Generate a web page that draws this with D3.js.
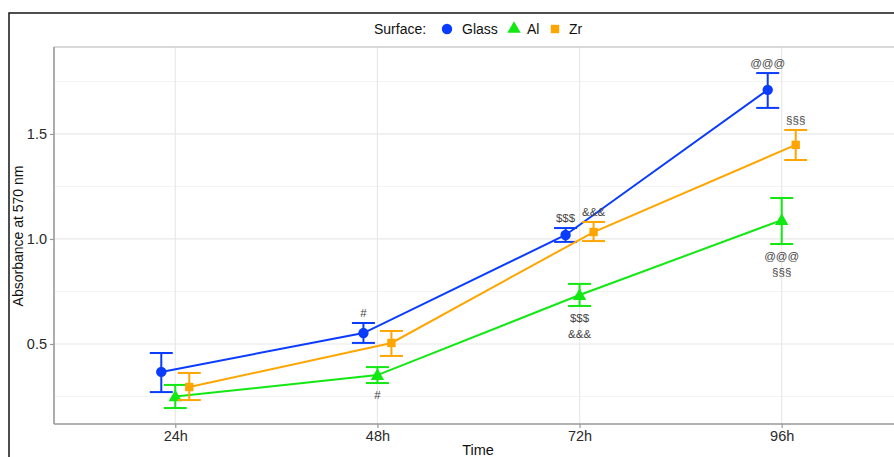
<!DOCTYPE html>
<html>
<head>
<meta charset="utf-8">
<script src="https://cdn.jsdelivr.net/npm/d3@7"></script>
<style>
  html, body { margin: 0; padding: 0; background: #fff; }
  svg { display: block; font-family: "Liberation Sans", Arial, Helvetica, sans-serif; }
</style>
</head>
<body>
<svg id="chart" width="894" height="457"></svg>
<script>
// ---------- data ----------
const times = ["24h", "48h", "72h", "96h"];
const surfaces = ["Glass", "Al", "Zr"];
const colors = ["#0a3cff", "#12e812", "#ffa500"];
const symbols = ["circle", "triangle", "square"];

const glassMean = [0.367, 0.552, 1.019, 1.710];
const glassLow  = [0.271, 0.505, 0.986, 1.624];
const glassHigh = [0.457, 0.600, 1.052, 1.790];

const alMean = [0.250, 0.352, 0.733, 1.090];
const alLow  = [0.195, 0.314, 0.681, 0.976];
const alHigh = [0.305, 0.390, 0.786, 1.195];

const zrMean = [0.295, 0.505, 1.033, 1.448];
const zrLow  = [0.233, 0.443, 0.990, 1.376];
const zrHigh = [0.362, 0.562, 1.081, 1.519];

const yTicks = [0.5, 1.0, 1.5];
const yMinor = [0.25, 0.75, 1.25, 1.75];

// annotations: series, time, text, side (above/below the error bar), line order
const annotations = [
  { s: "Glass", t: "48h", text: "#",   side: "above", line: 0 },
  { s: "Al",    t: "48h", text: "#",   side: "below", line: 0 },
  { s: "Glass", t: "72h", text: "$$$", side: "above", line: 0 },
  { s: "Zr",    t: "72h", text: "&&&", side: "above", line: 0 },
  { s: "Al",    t: "72h", text: "$$$", side: "below", line: 0 },
  { s: "Al",    t: "72h", text: "&&&", side: "below", line: 1 },
  { s: "Glass", t: "96h", text: "@@@", side: "above", line: 0 },
  { s: "Zr",    t: "96h", text: "§§§", side: "above", line: 0 },
  { s: "Al",    t: "96h", text: "@@@", side: "below", line: 0 },
  { s: "Al",    t: "96h", text: "§§§", side: "below", line: 1 }
];

const seriesData = {
  Glass: { mean: glassMean, low: glassLow, high: glassHigh },
  Al:    { mean: alMean,    low: alLow,    high: alHigh },
  Zr:    { mean: zrMean,    low: zrLow,    high: zrHigh }
};

// ---------- layout ----------
const svg = d3.select("#chart");
const panel = { left: 54, top: 47, right: 903, bottom: 424 };

const x = d3.scalePoint().domain(times).range([panel.left, panel.right]).padding(0.6);
const dodge = d3.scalePoint().domain(surfaces).range([-14, 14]);
const y = d3.scaleLinear().domain([0.119, 1.914]).range([panel.bottom, panel.top]);
const symMap = { circle: d3.symbolCircle, triangle: d3.symbolTriangle, square: d3.symbolSquare };
const symSize = { circle: 85, triangle: 78, square: 70 };

// outer frame
svg.append("rect")
  .attr("x", 9).attr("y", 13).attr("width", 1000).attr("height", 1000)
  .attr("fill", "none").attr("stroke", "#222").attr("stroke-width", 1.6);

// grid
const grid = svg.append("g");
grid.selectAll(".ymin").data(yMinor).join("line")
  .attr("x1", panel.left).attr("x2", panel.right)
  .attr("y1", d => y(d)).attr("y2", d => y(d))
  .attr("stroke", "#f4f4f4").attr("stroke-width", 1);
grid.selectAll(".ymaj").data(yTicks).join("line")
  .attr("x1", panel.left).attr("x2", panel.right)
  .attr("y1", d => y(d)).attr("y2", d => y(d))
  .attr("stroke", "#e8e8e8").attr("stroke-width", 1.2);
grid.selectAll(".xmaj").data(times).join("line")
  .attr("x1", d => x(d)).attr("x2", d => x(d))
  .attr("y1", panel.top).attr("y2", panel.bottom)
  .attr("stroke", "#e8e8e8").attr("stroke-width", 1.2);

// panel border
svg.append("line").attr("x1", panel.left).attr("x2", panel.right)
  .attr("y1", panel.top).attr("y2", panel.top)
  .attr("stroke", "#cccccc").attr("stroke-width", 1.6);

// axes
const yAxis = svg.append("g").attr("transform", `translate(${panel.left},0)`)
  .call(d3.axisLeft(y).tickValues(yTicks).tickFormat(d3.format(".1f")).tickSize(4).tickPadding(3));
const xAxis = svg.append("g").attr("transform", `translate(0,${panel.bottom})`)
  .call(d3.axisBottom(x).tickSize(4).tickPadding(3));
[yAxis, xAxis].forEach(g => {
  g.select(".domain").attr("stroke", "#999").attr("stroke-width", 1.6);
  g.selectAll(".tick line").attr("stroke", "#999").attr("stroke-width", 1.2);
  g.selectAll(".tick text").attr("fill", "#2a2a2a").style("font-size", "14.5px")
    .style("font-family", "'Liberation Sans', Arial, sans-serif");
});
yAxis.select(".domain").attr("d", `M0,${panel.top}V${panel.bottom}`);
xAxis.select(".domain").attr("d", `M${panel.left},0H${panel.right}`);

// axis titles
svg.append("text").attr("x", 478).attr("y", 455).attr("text-anchor", "middle")
  .style("font-size", "14.5px").attr("fill", "#111").text("Time");
svg.append("text").attr("transform", "translate(23,236) rotate(-90)")
  .attr("text-anchor", "middle").style("font-size", "14px").attr("fill", "#111")
  .text("Absorbance at 570 nm");

// series
const px = (s, t) => x(t) + dodge(s);
surfaces.forEach((s, si) => {
  const d = seriesData[s];
  const pts = times.map((t, i) => ({ t, m: d.mean[i], lo: d.low[i], hi: d.high[i] }));
  const g = svg.append("g");
  g.append("path").datum(pts)
    .attr("d", d3.line().x(p => px(s, p.t)).y(p => y(p.m)))
    .attr("fill", "none").attr("stroke", colors[si]).attr("stroke-width", 2);
  const eb = g.selectAll(".eb").data(pts).join("g");
  eb.append("line").attr("x1", p => px(s, p.t)).attr("x2", p => px(s, p.t))
    .attr("y1", p => y(p.lo)).attr("y2", p => y(p.hi))
    .attr("stroke", colors[si]).attr("stroke-width", 2);
  ["lo", "hi"].forEach(k => {
    eb.append("line").attr("x1", p => px(s, p.t) - 11.5).attr("x2", p => px(s, p.t) + 11.5)
      .attr("y1", p => y(p[k])).attr("y2", p => y(p[k]))
      .attr("stroke", colors[si]).attr("stroke-width", 2);
  });
  g.selectAll(".pt").data(pts).join("path")
    .attr("transform", p => `translate(${px(s, p.t)},${y(p.m) + (symbols[si] === "triangle" ? 1 : 0)})`)
    .attr("d", d3.symbol().type(symMap[symbols[si]]).size(symSize[symbols[si]]))
    .attr("fill", colors[si]);
});

// annotations
svg.append("g").selectAll("text").data(annotations).join("text")
  .attr("x", a => px(a.s, a.t))
  .attr("y", a => {
    const i = times.indexOf(a.t);
    const d = seriesData[a.s];
    if (a.side === "above") return y(d.high[i]) - 6;
    return y(d.low[i]) + 16 + a.line * 16;
  })
  .attr("text-anchor", "middle").style("font-size", "11.5px").attr("fill", "#444")
  .text(a => a.text);

// legend
const leg = svg.append("g").attr("transform", "translate(0,29)");
leg.append("text").attr("x", 374).attr("y", 5).style("font-size", "14px").attr("fill", "#111").text("Surface:");
const legItems = [
  { s: "Glass", sx: 447, tx: 462 },
  { s: "Al", sx: 514, tx: 527 },
  { s: "Zr", sx: 555, tx: 569 }
];
legItems.forEach(it => {
  const si = surfaces.indexOf(it.s);
  leg.append("path").attr("transform", `translate(${it.sx},0)`)
    .attr("d", d3.symbol().type(symMap[symbols[si]]).size(symSize[symbols[si]]))
    .attr("fill", colors[si]);
  leg.append("text").attr("x", it.tx).attr("y", 5).style("font-size", "14px").attr("fill", "#111").text(it.s);
});
</script>
</body>
</html>
